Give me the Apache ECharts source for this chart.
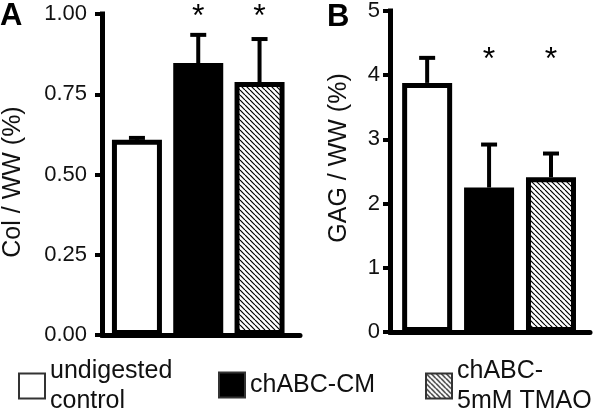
<!DOCTYPE html>
<html>
<head>
<meta charset="utf-8">
<script src="https://cdn.jsdelivr.net/npm/echarts@6/dist/echarts.min.js"></script>
<style>
	html, body { margin: 0; padding: 0; background: #fff; }
	#chart { width: 600px; height: 411px; }
</style>
</head>
<body>
<div id="chart"></div>
<script>
// groups (legend order)
var groups = ['undigested control', 'chABC-CM', 'chABC-5mM TMAO'];
var legendLabels = ['undigested\ncontrol', 'chABC-CM', 'chABC-\n5mM TMAO'];
var positions = [0, 1, 2];

// panel A: Col / WW (%)
var colMean = [0.608, 0.847, 0.788];
var colErr = [0.006, 0.088, 0.134];
var colStars = [null, 0.99, 0.99];

// panel B: GAG / WW (%)
var gagMean = [3.88, 2.25, 2.41];
var gagErr = [0.39, 0.67, 0.37];
var gagStars = [null, 4.24, 4.24];

var FONT = '"Liberation Sans", Arial, Helvetica, sans-serif';

// diagonal hatch
var makeHatch = function (s, lw) {
	var c = document.createElement('canvas');
	c.width = s;
	c.height = s;
	var ctx = c.getContext('2d');
	ctx.fillStyle = '#fff';
	ctx.fillRect(0, 0, s, s);
	ctx.strokeStyle = '#000';
	ctx.lineWidth = lw;
	[-s, 0, s].forEach(function (k) {
		ctx.beginPath();
		ctx.moveTo(k, 0);
		ctx.lineTo(k + s, s);
		ctx.stroke();
	});
	return { image: c, repeat: 'repeat' };
};
var hatch = makeHatch(5, 1.2);
var fills = ['#fff', '#000', hatch];

var chart = echarts.init(document.getElementById('chart'));

var barSeries = function (mean, idx, stack) {
	return groups.map(function (g, i) {
		return {
			name: g,
			type: 'bar',
			xAxisIndex: idx,
			yAxisIndex: idx,
			stack: stack,
			barWidth: 50,
			z: 3,
			itemStyle: { color: fills[i], borderColor: '#000', borderWidth: 5 },
			data: [[positions[i], mean[i]]],
		};
	});
};

var errSeries = function (mean, err, idx) {
	return {
		type: 'custom',
		xAxisIndex: idx,
		yAxisIndex: idx,
		z: 2,
		silent: true,
		data: positions.map(function (p, i) {
			return [p, mean[i], err[i]];
		}),
		renderItem: function (params, api) {
			var x = api.value(0);
			var m = api.value(1);
			var e = api.value(2);
			var b = api.coord([x, m]);
			var t = api.coord([x, m + e]);
			var st = { stroke: '#000', lineWidth: 4 };
			return {
				type: 'group',
				children: [
					{ type: 'line', shape: { x1: b[0], y1: b[1], x2: t[0], y2: t[1] }, style: st },
					{ type: 'line', shape: { x1: t[0] - 8, y1: t[1], x2: t[0] + 8, y2: t[1] }, style: st },
				],
			};
		},
	};
};

var starSeries = function (stars, idx) {
	var d = [];
	stars.forEach(function (s, i) {
		if (s !== null) d.push([positions[i], s]);
	});
	return {
		type: 'custom',
		xAxisIndex: idx,
		yAxisIndex: idx,
		clip: false,
		silent: true,
		data: d,
		renderItem: function (params, api) {
			var c = api.coord([api.value(0), api.value(1)]);
			return {
				type: 'text',
				x: c[0],
				y: c[1],
				style: {
					text: '*',
					fill: '#000',
					font: '32px ' + FONT,
					textAlign: 'center',
					textVerticalAlign: 'middle',
				},
			};
		},
	};
};

var xAxisBase = function (idx, min, max) {
	return {
		type: 'value',
		gridIndex: idx,
		min: min,
		max: max,
		axisLine: { show: true, onZero: false, lineStyle: { color: '#000', width: 5 } },
		axisTick: { show: false },
		axisLabel: { show: false },
		splitLine: { show: false },
	};
};

var yAxisBase = function (idx, max, interval, margin, fmt) {
	return {
		type: 'value',
		gridIndex: idx,
		min: 0,
		max: max,
		interval: interval,
		axisLine: { show: true, onZero: false, lineStyle: { color: '#000', width: 5, cap: 'square' } },
		axisTick: { show: true, length: 7, lineStyle: { color: '#000', width: 4 } },
		axisLabel: { fontFamily: FONT, fontSize: 22, color: '#111', margin: margin, formatter: fmt },
		splitLine: { show: false },
	};
};

var legendAt = function (i, left, top) {
	return {
		left: left,
		top: top,
		padding: 0,
		icon: 'rect',
		itemWidth: 26,
		itemHeight: 25,
		itemGap: 0,
		selectedMode: false,
		data: [{ name: groups[i], itemStyle: { borderColor: '#333', borderWidth: 2 } }],
		formatter: function (n) {
			return legendLabels[groups.indexOf(n)];
		},
		textStyle: { fontFamily: FONT, fontSize: 25, lineHeight: 30, color: '#111', padding: [0, 0, 0, 0] },
	};
};

var axisTitle = function (text, x, y) {
	return {
		type: 'text',
		x: x,
		y: y,
		rotation: Math.PI / 2,
		style: {
			text: text,
			font: '25px ' + FONT,
			fill: '#111',
			textAlign: 'center',
			textVerticalAlign: 'middle',
		},
	};
};

var option = {
	animation: false,
	backgroundColor: '#fff',
	graphic: [
		{ type: 'text', left: 0, top: 1, style: { text: 'A', font: 'bold 31px ' + FONT, fill: '#000' } },
		{ type: 'text', left: 327, top: 2, style: { text: 'B', font: 'bold 31px ' + FONT, fill: '#000' } },
		axisTitle('Col / WW (%)', 13, 182),
		axisTitle('GAG / WW (%)', 339, 158),
	],
	legend: [legendAt(0, 18, 356), legendAt(1, 218, 370), legendAt(2, 425, 356)],
	grid: [
		{ left: 102, top: 14, width: 198, height: 321 },
		{ left: 390, top: 10, width: 200, height: 322 },
	],
	xAxis: [xAxisBase(0, -0.57, 2.66), xAxisBase(1, -0.6, 2.63)],
	yAxis: [
		yAxisBase(0, 1, 0.25, 15, function (v) {
			return v.toFixed(2);
		}),
		yAxisBase(1, 5, 1, 10, function (v) {
			return String(v);
		}),
	],
	series: []
		.concat(barSeries(colMean, 0, 'A'))
		.concat(barSeries(gagMean, 1, 'B'))
		.concat([errSeries(colMean, colErr, 0), errSeries(gagMean, gagErr, 1)])
		.concat([starSeries(colStars, 0), starSeries(gagStars, 1)]),
};

chart.setOption(option);
</script>
</body>
</html>
